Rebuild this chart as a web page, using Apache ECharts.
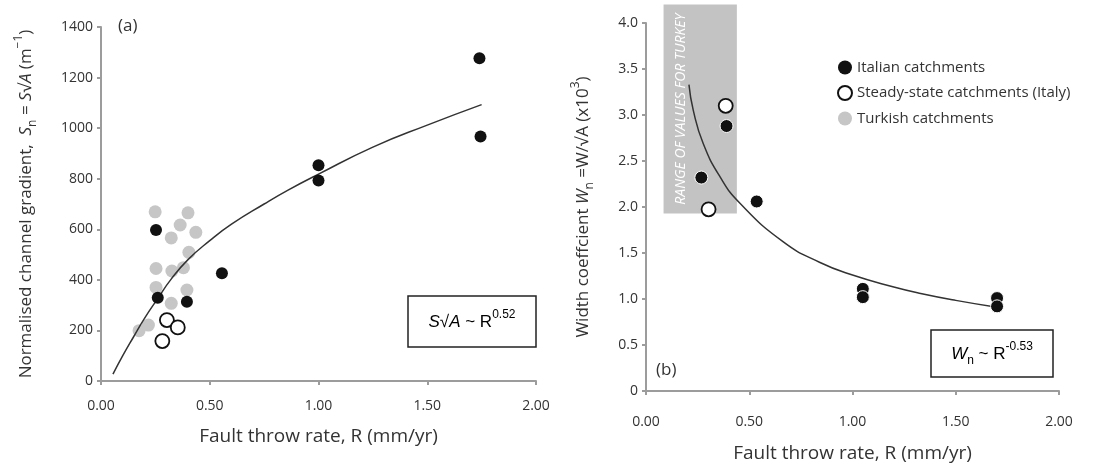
<!DOCTYPE html>
<html>
<head>
<meta charset="utf-8">
<script src="https://cdn.jsdelivr.net/npm/echarts@6/dist/echarts.min.js"></script>
<style>
html, body { margin: 0; padding: 0; background: #fff; }
#chart { width: 1093px; height: 470px; }
</style>
</head>
<body>
<div id="chart"></div>
<script>
// ---- panel (a): normalised channel gradient vs fault throw rate ----
var italianRa = [0.253, 0.261, 0.395, 0.556, 1.00, 1.00, 1.74, 1.745];
var italianSn = [597, 329, 313, 426, 853, 793, 1276, 967];
var steadyRa = [0.303, 0.353, 0.282];
var steadySn = [241, 212, 158];
var turkishR = [0.249, 0.40, 0.364, 0.323, 0.436, 0.404, 0.253, 0.326, 0.379, 0.253, 0.395, 0.323, 0.218, 0.175];
var turkishSn = [669, 665, 617, 566, 588, 509, 445, 435, 448, 370, 360, 307, 221, 199];
// trend line
var fitRa = [0.055, 0.10, 0.15, 0.20, 0.26, 0.32, 0.40, 0.50, 0.60, 0.75, 0.86, 1.00, 1.25, 1.50, 1.75];
var fitSn = [27, 100, 175, 248, 325, 400, 480, 555, 620, 700, 755, 818, 925, 1012, 1093];

// ---- panel (b): width coefficient vs fault throw rate ----
var italianRb = [0.268, 0.39, 0.536, 1.05, 1.05, 1.70, 1.70];
var italianWn = [2.32, 2.88, 2.06, 1.11, 1.02, 1.01, 0.92];
var steadyRb = [0.386, 0.303];
var steadyWn = [3.10, 1.975];
var fitRb = [0.208, 0.229, 0.277, 0.358, 0.455, 0.665, 0.84, 1.00, 1.20, 1.33, 1.50, 1.70];
var fitWn = [3.33, 3.05, 2.69, 2.33, 2.04, 1.62, 1.40, 1.26, 1.13, 1.06, 0.985, 0.91];
// shaded range of values for Turkey
var turkeyRangeR = [0.085, 0.44];
var turkeyRangeWn = [1.93, 4.2];

// axis ticks
var xTicks = [0, 0.5, 1.0, 1.5, 2.0];
var snTicks = [0, 1400, 200];
var wnTicks = [0, 4, 0.5];

var AXIS_GREY = '#9c9c9c';
var TEXT = '#333';

/**
 * zip two lists into [x, y] points
 */
function pairs(xs, ys) {
	return xs.map(function(x, i) { return [x, ys[i]]; });
}

function xAxisOf(gridIndex, nameGap, labelMargin) {
	return {
		type: 'value', gridIndex: gridIndex,
		min: xTicks[0], max: xTicks[xTicks.length - 1], interval: xTicks[1] - xTicks[0],
		name: 'Fault throw rate, R (mm/yr)',
		nameLocation: 'middle', nameGap: nameGap,
		nameTextStyle: { fontSize: 19, color: TEXT },
		axisLine: { lineStyle: { color: AXIS_GREY, width: 2 } },
		axisTick: { length: 4, lineStyle: { color: AXIS_GREY, width: 2 } },
		splitLine: { show: false },
		axisLabel: { color: TEXT, fontSize: 14, margin: labelMargin,
			formatter: function(v) { return v.toFixed(2); } }
	};
}

var subRich = {
	b: { fontSize: 17, color: TEXT, lineHeight: 24 },
	i: { fontSize: 17, color: TEXT, fontStyle: 'italic', lineHeight: 24 },
	sub: { fontSize: 12, color: TEXT, verticalAlign: 'bottom', lineHeight: 24 },
	sup: { fontSize: 12, color: TEXT, verticalAlign: 'top', lineHeight: 26 }
};

function createChart() {
	var myChart = echarts.init(document.getElementById('chart'));

	var option = {
		animation: false,
		textStyle: { fontFamily: 'Open Sans' },
		grid: [
			{ left: 101, top: 27, width: 435, height: 354 },
			{ left: 646, top: 23, width: 413, height: 368 }
		],
		legend: {
			data: ['Italian catchments', 'Steady-state catchments (Italy)', 'Turkish catchments'],
			orient: 'vertical', left: 832, top: 55,
			itemWidth: 14, itemHeight: 14, itemGap: 10, icon: 'circle',
			textStyle: { fontSize: 15, color: TEXT }
		},
		xAxis: [ xAxisOf(0, 46, 18), xAxisOf(1, 53, 24) ],
		yAxis: [
			{
				type: 'value', gridIndex: 0,
				min: snTicks[0], max: snTicks[1], interval: snTicks[2],
				name: '{b|Normalised channel gradient,  }{i|S}{sub|n}{b| = }{i|S}{b|√}{i|A}{b| (m}{sup|−1}{b|)}',
				nameLocation: 'middle', nameGap: 62,
				nameTextStyle: { rich: subRich },
				axisLine: { lineStyle: { color: AXIS_GREY, width: 2 } },
				axisTick: { length: 4, lineStyle: { color: AXIS_GREY, width: 2 } },
				splitLine: { show: false },
				axisLabel: { color: TEXT, fontSize: 14, margin: 8,
					formatter: function(v) { return String(v); } }
			},
			{
				type: 'value', gridIndex: 1,
				min: wnTicks[0], max: wnTicks[1], interval: wnTicks[2],
				name: '{b|Width coeffcient }{i|W}{sub|n}{b| =W/√A (x10}{sup|3}{b|)}',
				nameLocation: 'middle', nameGap: 50,
				nameTextStyle: { rich: subRich },
				axisLine: { lineStyle: { color: AXIS_GREY, width: 2 } },
				axisTick: { length: 4, lineStyle: { color: AXIS_GREY, width: 2 } },
				splitLine: { show: false },
				axisLabel: { color: TEXT, fontSize: 14, margin: 8,
					formatter: function(v) { return v === 0 ? '0' : v.toFixed(1); } }
			}
		],
		series: [
			// panel (a)
			{ name: 'Turkish catchments', type: 'scatter', xAxisIndex: 0, yAxisIndex: 0,
			  symbolSize: 13, itemStyle: { color: '#c6c6c6', opacity: 1 },
			  data: pairs(turkishR, turkishSn), z: 2 },
			{ name: 'fitA', type: 'line', xAxisIndex: 0, yAxisIndex: 0, smooth: true,
			  showSymbol: false, lineStyle: { color: '#333', width: 1.5 },
			  data: pairs(fitRa, fitSn), z: 3 },
			{ name: 'Italian catchments', type: 'scatter', xAxisIndex: 0, yAxisIndex: 0,
			  symbolSize: 12, itemStyle: { color: '#111', opacity: 1 },
			  data: pairs(italianRa, italianSn), z: 4 },
			{ name: 'Steady-state catchments (Italy)', type: 'scatter', xAxisIndex: 0, yAxisIndex: 0,
			  symbolSize: 14, itemStyle: { color: '#fff', borderColor: '#111', borderWidth: 1.8, opacity: 1 },
			  data: pairs(steadyRa, steadySn), z: 4 },
			// panel (b)
			{ name: 'fitB', type: 'line', xAxisIndex: 1, yAxisIndex: 1, smooth: true,
			  showSymbol: false, lineStyle: { color: '#333', width: 1.5 },
			  data: pairs(fitRb, fitWn), z: 3 },
			{ name: 'Italian catchments', type: 'scatter', xAxisIndex: 1, yAxisIndex: 1,
			  symbolSize: 13, itemStyle: { color: '#111', borderColor: '#fff', borderWidth: 1, opacity: 1 },
			  data: pairs(italianRb, italianWn), z: 4 },
			{ name: 'Steady-state catchments (Italy)', type: 'scatter', xAxisIndex: 1, yAxisIndex: 1,
			  symbolSize: 14, itemStyle: { color: '#fff', borderColor: '#111', borderWidth: 1.8, opacity: 1 },
			  data: pairs(steadyRb, steadyWn), z: 4 }
		]
	};

	myChart.setOption(option);

	// the Turkey range box runs above the axis top, so place it from the axis scales
	var p1 = myChart.convertToPixel({ gridIndex: 1 }, [turkeyRangeR[0], turkeyRangeWn[1]]);
	var p2 = myChart.convertToPixel({ gridIndex: 1 }, [turkeyRangeR[1], turkeyRangeWn[0]]);

	myChart.setOption({
		graphic: [
			{ type: 'rect', z: 0, silent: true,
			  shape: { x: p1[0], y: p1[1], width: p2[0] - p1[0], height: p2[1] - p1[1] },
			  style: { fill: '#c3c3c3' } },
			{ type: 'text', z: 1, x: p1[0] + 17, y: (p1[1] + p2[1]) / 2, rotation: Math.PI / 2,
			  style: { text: 'RANGE OF VALUES FOR TURKEY', align: 'center', verticalAlign: 'middle',
			           font: 'italic 14px "Open Sans"', fill: '#fff' } },
			{ type: 'text', left: 118, top: 18, z: 5,
			  style: { text: '(a)', font: '17px "Open Sans"', fill: TEXT } },
			{ type: 'text', left: 656, top: 362, z: 5,
			  style: { text: '(b)', font: '17px "Open Sans"', fill: TEXT } },
			{ type: 'rect', z: 5, shape: { x: 408, y: 296, width: 128, height: 51 },
			  style: { fill: '#fff', stroke: '#222', lineWidth: 1.5 } },
			{ type: 'text', z: 6, x: 472, y: 322,
			  style: { text: '{i|S}{b|√}{i|A}{b| ~ R}{sup|0.52}', align: 'center', verticalAlign: 'middle',
			           rich: subRich } },
			{ type: 'rect', z: 5, shape: { x: 931, y: 330, width: 122, height: 47 },
			  style: { fill: '#fff', stroke: '#222', lineWidth: 1.5 } },
			{ type: 'text', z: 6, x: 992, y: 354,
			  style: { text: '{i|W}{sub|n}{b| ~ R}{sup|-0.53}', align: 'center', verticalAlign: 'middle',
			           rich: subRich } }
		]
	});
}

createChart();
</script>
</body>
</html>
